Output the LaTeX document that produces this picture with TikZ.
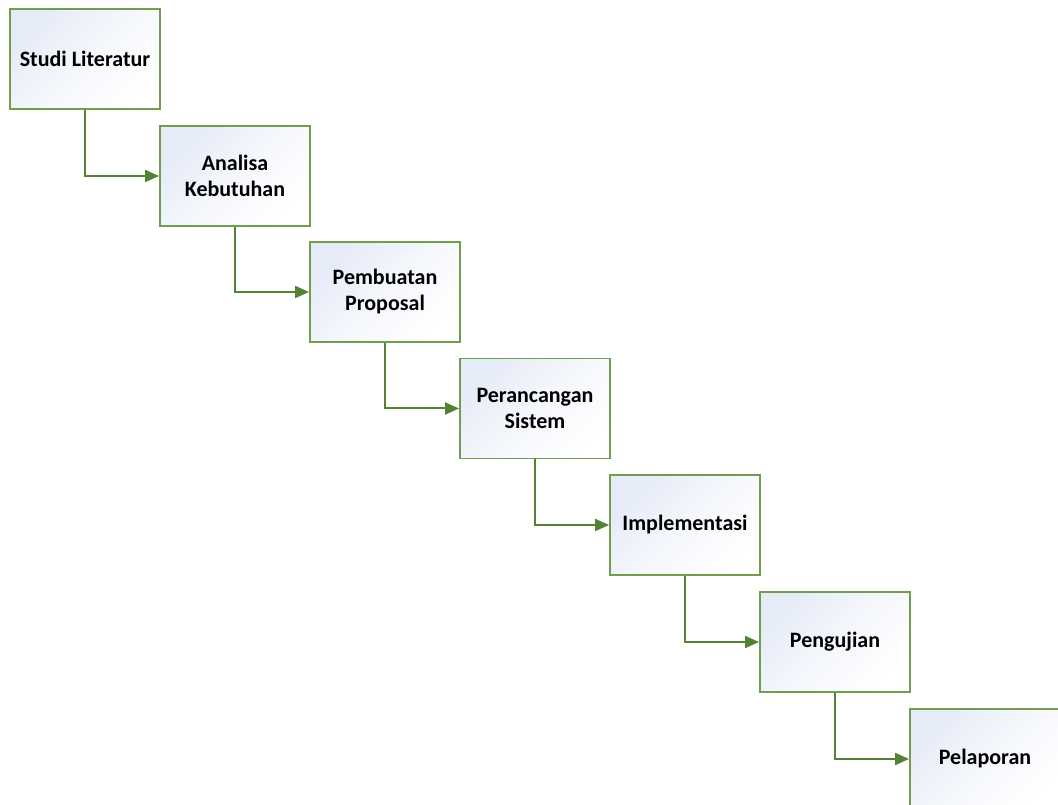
\documentclass[tikz,border=0pt]{standalone}
\usepackage{fontspec}
\setmainfont{Carlito}
\usetikzlibrary{arrows.meta}
\definecolor{boxline}{RGB}{112,158,78}
\definecolor{arrline}{RGB}{84,130,53}
\definecolor{shadetop}{RGB}{229,235,247}
\tikzset{
  stepbox/.style={draw=boxline, line width=1.4pt, minimum width=112.5pt, minimum height=75pt,
    inner sep=0pt, align=center, font=\fontsize{16.5}{19.5}\selectfont\bfseries,
    shading=axis, top color=shadetop, bottom color=white, middle color=shadetop!40!white, shading angle=45},
  flow/.style={draw=arrline, line width=1.5pt, -{Triangle[length=10.5pt,width=9pt]}}
}
\begin{document}
\begin{tikzpicture}[x=0.75pt,y=-0.75pt]
\useasboundingbox (0,0) rectangle (1058,805);
\clip (0,0) rectangle (1058,805);
\node[stepbox] (s1) at (85,59) {Studi Literatur};
\node[stepbox] (s2) at (235,176) {Analisa\\Kebutuhan};
\node[stepbox] (s3) at (385,292) {Pembuatan\\Proposal};
\node[stepbox] (s4) at (535,408.5) {Perancangan\\Sistem};
\node[stepbox] (s5) at (685,525) {Implementasi};
\node[stepbox] (s6) at (835,642) {Pengujian};
\node[stepbox] (s7) at (985,759) {Pelaporan};
\draw[flow] (s1.south) |- (s2.west);
\draw[flow] (s2.south) |- (s3.west);
\draw[flow] (s3.south) |- (s4.west);
\draw[flow] (s4.south) |- (s5.west);
\draw[flow] (s5.south) |- (s6.west);
\draw[flow] (s6.south) |- (s7.west);
\end{tikzpicture}
\end{document}
